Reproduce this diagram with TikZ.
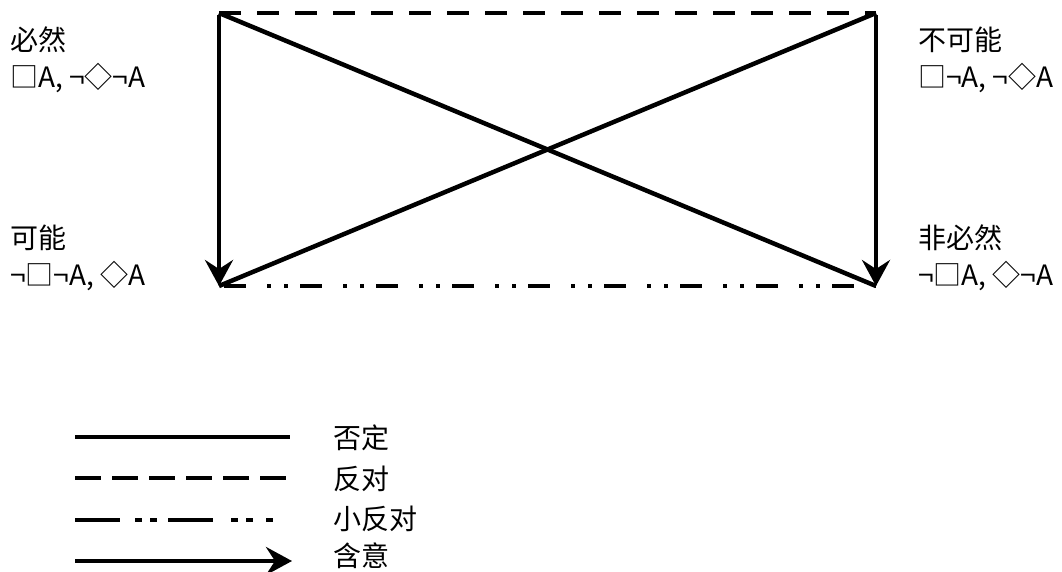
\documentclass[tikz,border=0pt]{standalone}
\usepackage{fontspec}
\setmainfont{Noto Sans CJK SC}
\usetikzlibrary{arrows.meta}
\begin{document}
\begin{tikzpicture}[x=1pt,y=-1pt,
  lbl/.style={anchor=west,inner sep=0pt,font=\fontsize{28}{32}\selectfont},
  thick line/.style={line width=4.5pt,line cap=butt},
  imp/.style={thick line,-{Stealth[length=26pt,width=28pt,inset=9pt]}},
  contrary/.style={thick line,dash pattern=on 22pt off 16pt},
  subcontrary/.style={thick line,dash pattern=on 22pt off 21pt on 4pt off 13pt on 4pt off 12pt,dash phase=71pt}]
\useasboundingbox (0,0) rectangle (1062,572);
\coordinate (TL) at (219,13);
\coordinate (TR) at (876,13);
\coordinate (BL) at (219,286);
\coordinate (BR) at (876,286);
% square
\draw[contrary] (TL) -- (TR);
\draw[subcontrary] (BL) -- (BR);
\draw[thick line] (TL) -- (BR);
\draw[thick line] (BL) -- (TR);
\draw[imp] ([yshift=-2pt]TL) -- (BL);
\draw[imp] ([yshift=-2pt]TR) -- (BR);
% labels
\node[lbl] (n1) at (10,40) {必然};
\node[lbl] (n1f) at (10,78) {□A, ¬◇¬A};
\node[lbl] (n2) at (918,40) {不可能};
\node[lbl] (n2f) at (918,78) {□¬A, ¬◇A};
\node[lbl] (n3) at (10,238) {可能};
\node[lbl] (n3f) at (10,276) {¬□¬A, ◇A};
\node[lbl] (n4) at (918,238) {非必然};
\node[lbl] (n4f) at (918,276) {¬□A, ◇¬A};
% legend
\coordinate (L1a) at (75,437); \coordinate (L1b) at (290,437);
\coordinate (L2a) at (75,478); \coordinate (L2b) at (290,478);
\coordinate (L3a) at (75,520); \coordinate (L3b) at (290,520);
\coordinate (L4a) at (75,561); \coordinate (L4b) at (292,561);
\draw[thick line] (L1a) -- (L1b);
\draw[thick line,dash pattern=on 26pt off 11pt] (L2a) -- (L2b);
\draw[thick line,dash pattern=on 45pt off 15pt on 7pt off 8pt on 7pt off 11pt on 45pt off 18pt on 7pt off 8pt on 7pt off 13pt on 7pt off 100pt] (L3a) -- (L3b);
\draw[imp] (L4a) -- (L4b);
\node[lbl] (g1) at (333,438) {否定};
\node[lbl] (g2) at (333,479) {反对};
\node[lbl] (g3) at (333,519) {小反对};
\node[lbl] (g4) at (333,556) {含意};
\end{tikzpicture}
\end{document}
